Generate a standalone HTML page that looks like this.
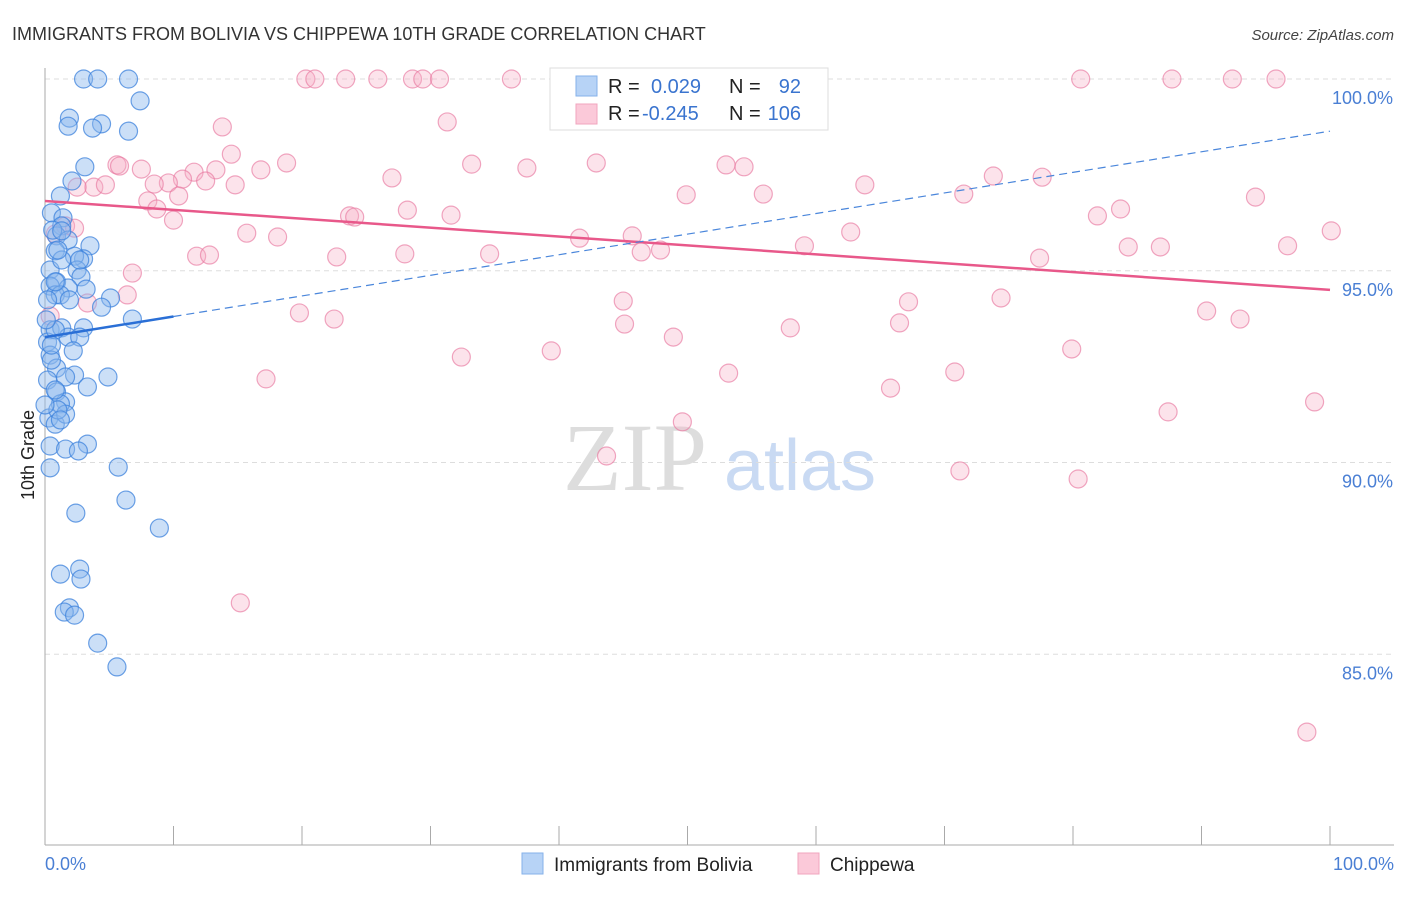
<!DOCTYPE html>
<html><head><meta charset="utf-8"><style>
html,body{margin:0;padding:0;background:#fff;}
body{width:1406px;height:892px;overflow:hidden;font-family:"Liberation Sans",sans-serif;}
</style></head><body>
<svg id="chart" width="1406" height="892" xmlns="http://www.w3.org/2000/svg" font-family="Liberation Sans, sans-serif">
<text x="12" y="40" font-size="18" fill="#333">IMMIGRANTS FROM BOLIVIA VS CHIPPEWA 10TH GRADE CORRELATION CHART</text>
<text x="1394" y="40" font-size="15" fill="#444" text-anchor="end" font-style="italic">Source: ZipAtlas.com</text>
<g>
<text x="635" y="490" font-size="96" font-family="Liberation Serif, serif" fill="#ddd" text-anchor="middle">ZIP</text>
<text x="800" y="490" font-size="72" fill="#c9daf3" text-anchor="middle">atlas</text>
</g>
<g id="grid"></g>
<g id="axes"></g>
<g id="pts"></g>
<g id="lines"></g>
<text transform="translate(34,455) rotate(-90)" font-size="18" fill="#222" text-anchor="middle">10th Grade</text>
<text x="45" y="870" font-size="18" fill="#4a7fd4">0.0%</text>
<text x="1394" y="870" font-size="18" fill="#4a7fd4" text-anchor="end">100.0%</text>
<g>
<rect x="550" y="68" width="278" height="62" fill="#fff" stroke="#ddd"/>
<rect x="576" y="76" width="21" height="20" fill="#b7d3f6" stroke="#86b2ea"/>
<rect x="576" y="104" width="21" height="20" fill="#fbc9d9" stroke="#f0a5be"/>
<text x="608" y="93" font-size="20" fill="#222">R =</text>
<text x="651" y="93" font-size="20" fill="#3a74cf">0.029</text>
<text x="729" y="93" font-size="20" fill="#222">N =</text>
<text x="801" y="93" font-size="20" fill="#3a74cf" text-anchor="end">92</text>
<text x="608" y="120" font-size="20" fill="#222">R =</text>
<text x="642" y="120" font-size="20" fill="#3a74cf">-0.245</text>
<text x="729" y="120" font-size="20" fill="#222">N =</text>
<text x="801" y="120" font-size="20" fill="#3a74cf" text-anchor="end">106</text>
</g>
<g>
<rect x="522" y="853" width="21" height="21" fill="#b7d3f6" stroke="#86b2ea"/>
<text x="554" y="871" font-size="19" fill="#222">Immigrants from Bolivia</text>
<rect x="798" y="853" width="21" height="21" fill="#fbc9d9" stroke="#f0a5be"/>
<text x="830" y="871" font-size="19" fill="#222">Chippewa</text>
</g>
</svg>
<script>
const yTicks=[100,95,90,85];
const yTickLabels=["100.0%","95.0%","90.0%","85.0%"];
const xTicks=[0,10,20,30,40,50,60,70,80,90,100];
const blueX=[3.0,4.1,6.5,7.4,1.9,1.8,4.4,3.7,6.5,3.1,2.1,1.2,0.5,1.4,1.3,0.9,1.8,3.5,0.8,3.0,2.3,0.4,2.5,2.8,0.9,0.4,3.2,1.8,0.8,1.2,5.1,4.4,6.8,0.4,1.3,3.0,1.8,2.7,0.2,2.2,0.4,0.9,2.3,4.9,0.2,1.6,3.3,0.9,1.6,1.2,0.3,0.8,1.6,1.0,0.4,1.6,3.3,2.6,0.4,5.7,6.3,2.4,8.9,1.2,2.7,2.8,1.9,1.5,2.3,4.1,5.6,0.0,0.2,0.8,0.5,1.3,1.9,1.0,0.6,0.1,1.3,2.7,0.8,0.5,0.8,1.2];
const blueY=[100,100,100,99.43,98.98,98.77,98.83,98.72,98.64,97.71,97.34,96.95,96.51,96.38,96.17,95.91,95.80,95.65,95.52,95.31,95.38,95.02,95.02,94.84,94.71,94.60,94.52,94.55,94.37,94.37,94.29,94.05,93.74,93.46,93.51,93.51,93.27,93.27,93.14,92.91,92.80,92.46,92.28,92.23,92.15,92.23,91.97,91.84,91.58,91.53,91.16,91.00,91.26,91.37,90.43,90.35,90.48,90.30,89.86,89.88,89.02,88.68,88.29,87.09,87.22,86.96,86.21,86.10,86.02,85.29,84.67,91.50,94.24,93.46,92.67,95.28,94.24,95.54,96.06,93.72,96.04,95.28,94.71,93.06,91.89,91.11];
const pinkX=[20.3,21.0,23.4,25.9,28.6,29.4,30.7,36.3,80.6,87.7,92.4,95.8,13.8,31.3,14.5,5.6,7.5,5.8,18.8,16.8,13.3,11.6,10.7,9.6,8.5,12.5,14.8,3.8,4.7,2.5,33.2,37.5,42.9,53.0,54.4,27.0,63.8,73.8,77.6,8.0,10.4,8.7,10.0,23.7,24.1,28.2,31.6,49.9,55.9,71.5,94.2,81.9,83.7,0.8,1.6,2.3,15.7,18.1,11.8,12.8,22.7,28.0,34.6,41.6,45.7,46.4,47.9,59.1,62.7,84.3,86.8,96.7,100.1,77.4,6.8,6.4,3.3,19.8,22.5,45.0,45.1,48.9,58.0,66.5,67.2,74.4,90.4,93.0,32.4,39.4,53.2,70.8,17.2,65.8,79.9,87.4,98.8,49.6,43.7,71.2,80.4,15.2,98.2,0.4];
const pinkY=[100,100,100,100,100,100,100,100,100,100,100,100,98.75,98.88,98.04,97.76,97.65,97.73,97.81,97.63,97.63,97.57,97.39,97.29,97.26,97.34,97.24,97.18,97.24,97.18,97.78,97.68,97.81,97.76,97.71,97.42,97.24,97.47,97.44,96.82,96.95,96.61,96.32,96.43,96.40,96.58,96.45,96.98,97.00,97.00,96.92,96.43,96.61,95.96,96.17,96.11,95.98,95.88,95.38,95.41,95.36,95.44,95.44,95.85,95.91,95.49,95.54,95.65,96.01,95.62,95.62,95.65,96.04,95.33,94.94,94.37,94.16,93.90,93.74,94.21,93.61,93.27,93.51,93.64,94.19,94.29,93.95,93.74,92.75,92.91,92.33,92.36,92.18,91.94,92.96,91.32,91.58,91.06,90.17,89.78,89.57,86.34,82.97,93.82];
const blueTrend=[93.27,98.64];
const pinkTrend=[96.82,94.50];
const NS="http://www.w3.org/2000/svg";
const X0=45,X1=1330,YTOP=79,PER=38.35;
function sx(v){return X0+(X1-X0)*v/100;}
function sy(v){return YTOP+(100-v)*PER;}
function mk(tag,attrs,parent){const e=document.createElementNS(NS,tag);for(const k in attrs)e.setAttribute(k,attrs[k]);parent.appendChild(e);return e;}
const grid=document.getElementById('grid'),axes=document.getElementById('axes'),pts=document.getElementById('pts'),lines=document.getElementById('lines');
yTicks.forEach((t,i)=>{
  const l=mk('line',{x1:X0,x2:1394,y1:sy(t),y2:sy(t),stroke:'#ddd','stroke-dasharray':'5,4'},grid);
  
  
  const tx=mk('text',{x:1393,y:sy(t)+25,'font-size':18,fill:'#4a7fd4','text-anchor':'end'},grid);
  tx.textContent=yTickLabels[i];
  
  
});
const ya=mk('line',{x1:X0,x2:X0,y1:68,y2:845,stroke:'#aaa'},axes);


const xa=mk('line',{x1:X0,x2:1394,y1:845,y2:845,stroke:'#aaa'},axes);


xTicks.forEach(t=>{
  const l=mk('line',{x1:sx(t),x2:sx(t),y1:826,y2:845,stroke:'#aaa'},axes);
  
  
});
function drawPts(xs,ys,fill,stroke,name){
  xs.forEach((x,i)=>{
    const c=mk('circle',{cx:sx(x),cy:sy(ys[i]),r:9,fill:fill,stroke:stroke,'stroke-width':1.2},pts);
    
    
  });
}
drawPts(pinkX,pinkY,'rgba(246,175,199,0.35)','rgba(232,120,160,0.65)','chippewa-point');
drawPts(blueX,blueY,'rgba(140,185,238,0.45)','rgba(60,130,220,0.75)','bolivia-point');
const pl=mk('line',{x1:sx(0),y1:sy(pinkTrend[0]),x2:sx(100),y2:sy(pinkTrend[1]),stroke:'#e8588a','stroke-width':2.5},lines);


const bEnd=10,bMid=blueTrend[0]+(blueTrend[1]-blueTrend[0])*bEnd/100;
const bl=mk('line',{x1:sx(0),y1:sy(blueTrend[0]),x2:sx(bEnd),y2:sy(bMid),stroke:'#2a6fd6','stroke-width':2.5},lines);


const bd=mk('line',{x1:sx(bEnd),y1:sy(bMid),x2:sx(100),y2:sy(blueTrend[1]),stroke:'#4a86db','stroke-width':1.2,'stroke-dasharray':'8,5'},lines);


</script>
</body></html>
